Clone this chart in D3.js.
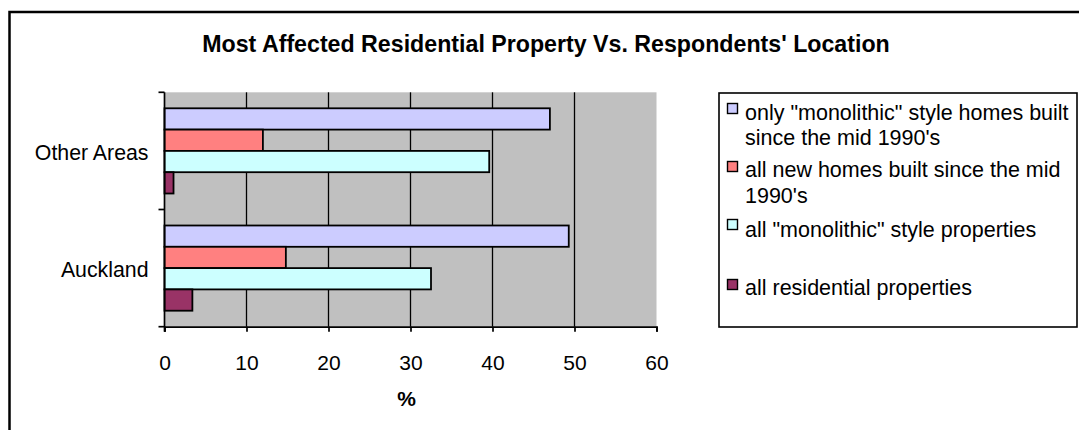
<!DOCTYPE html>
<html>
<head>
<meta charset="utf-8">
<script src="https://cdn.jsdelivr.net/npm/d3@7"></script>
<style>
  html, body { margin: 0; padding: 0; background: #fff; }
  svg { display: block; font-family: "Liberation Sans", Arial, sans-serif; }
</style>
</head>
<body>
<svg id="chart" width="1079" height="430"></svg>
<script>
// Categories (top to bottom) and series, in legend order
const categories = ["Other Areas", "Auckland"];
const seriesNames = [
  'only "monolithic" style homes built since the mid 1990\'s',
  "all new homes built since the mid 1990's",
  'all "monolithic" style properties',
  "all residential properties"
];
const legendLines = [
  ['only "monolithic" style homes built', "since the mid 1990's"],
  ["all new homes built since the mid", "1990's"],
  ['all "monolithic" style properties'],
  ["all residential properties"]
];
const seriesColors = ["#CCCCFF", "#FF8080", "#CCFFFF", "#993366"];
// Percent values per series, one entry per category
const monolithicSince90s = [47.0, 49.3];
const allNewSince90s = [12.0, 14.8];
const allMonolithic = [39.6, 32.5];
const allResidential = [1.1, 3.4];
const seriesValues = [monolithicSince90s, allNewSince90s, allMonolithic, allResidential];
const xTicks = [0, 10, 20, 30, 40, 50, 60];

const svg = d3.select("#chart");

// Outer frame
svg.append("rect")
  .attr("x", 9.5).attr("y", 12)
  .attr("width", 1100).attr("height", 450)
  .attr("fill", "none").attr("stroke", "#000").attr("stroke-width", 2.5);

// Title
svg.append("text")
  .attr("x", 546).attr("y", 52)
  .attr("text-anchor", "middle")
  .attr("font-weight", "bold").attr("font-size", 23.2)
  .text("Most Affected Residential Property Vs. Respondents' Location");

const plot = { left: 164.5, right: 656.5, top: 92.3, bottom: 326.7 };

const x = d3.scaleLinear().domain([0, 60]).range([plot.left, plot.right]);
const gap = 0.273;
const y = d3.scaleBand().domain(categories)
  .range([plot.top, plot.bottom])
  .paddingInner(gap).paddingOuter(gap / 2);
const ySeries = d3.scaleBand().domain(d3.range(seriesNames.length))
  .range([0, y.bandwidth()]);

// Plot background
svg.append("rect")
  .attr("x", plot.left).attr("y", plot.top)
  .attr("width", plot.right - plot.left).attr("height", plot.bottom - plot.top)
  .attr("fill", "#C0C0C0");

// Vertical gridlines
svg.append("g").selectAll("line")
  .data(xTicks.filter(d => d > 0 && d < 60))
  .join("line")
  .attr("x1", d => x(d)).attr("x2", d => x(d))
  .attr("y1", plot.top).attr("y2", plot.bottom)
  .attr("stroke", "#000").attr("stroke-width", 1.3);

// Bars
const groups = svg.append("g").selectAll("g")
  .data(categories)
  .join("g")
  .attr("transform", c => `translate(0,${y(c)})`);

groups.selectAll("rect")
  .data((c, ci) => seriesValues.map((vals, si) => ({ si, v: vals[ci] })))
  .join("rect")
  .attr("x", x(0))
  .attr("y", d => ySeries(d.si))
  .attr("width", d => x(d.v) - x(0))
  .attr("height", ySeries.bandwidth())
  .attr("fill", d => seriesColors[d.si])
  .attr("stroke", "#000").attr("stroke-width", 1.8);

// X axis
const xAxis = svg.append("g")
  .attr("transform", `translate(0,${plot.bottom})`)
  .call(d3.axisBottom(x).tickValues(xTicks).tickSize(5).tickPadding(23).tickFormat(d3.format("d")));
xAxis.select(".domain").attr("stroke-width", 1.7);
xAxis.selectAll(".tick line").attr("stroke-width", 1.7);
xAxis.selectAll("text")
  .attr("font-size", 21).attr("fill", "#000")
  .attr("font-family", "Liberation Sans, Arial, sans-serif");

// Axis title
svg.append("text")
  .attr("x", (plot.left + plot.right) / 2 - 4).attr("y", 406)
  .attr("text-anchor", "middle")
  .attr("font-weight", "bold").attr("font-size", 21)
  .text("%");

// Y axis line and category boundary ticks
const yAxis = svg.append("g");
yAxis.append("line")
  .attr("x1", plot.left).attr("x2", plot.left)
  .attr("y1", plot.top).attr("y2", plot.bottom + 5)
  .attr("stroke", "#000").attr("stroke-width", 1.7);
const boundaries = d3.range(categories.length + 1).map(i => plot.top + i * y.step());
yAxis.selectAll(".bt")
  .data(boundaries)
  .join("line")
  .attr("class", "bt")
  .attr("x1", plot.left - 6).attr("x2", plot.left)
  .attr("y1", d => d).attr("y2", d => d)
  .attr("stroke", "#000").attr("stroke-width", 1.7);
yAxis.selectAll("text")
  .data(categories)
  .join("text")
  .attr("x", plot.left - 16)
  .attr("y", c => y(c) + y.bandwidth() / 2 + 9)
  .attr("text-anchor", "end")
  .attr("font-size", 21.3)
  .text(c => c);

// Legend
const legend = svg.append("g");
legend.append("rect")
  .attr("x", 719).attr("y", 93)
  .attr("width", 358).attr("height", 234)
  .attr("fill", "#fff").attr("stroke", "#000").attr("stroke-width", 1.6);

const legendSwatchY = [103.5, 161.5, 219.5, 279.5];
const legendBaselines = [[120, 145], [176.7, 203.3], [236.7], [295]];

const items = legend.selectAll("g.item")
  .data(seriesNames.map((n, i) => i))
  .join("g").attr("class", "item");

items.append("rect")
  .attr("x", 727.5).attr("y", i => legendSwatchY[i])
  .attr("width", 10).attr("height", 10)
  .attr("fill", i => seriesColors[i])
  .attr("stroke", "#000").attr("stroke-width", 1.4);

items.each(function (i) {
  d3.select(this).selectAll("text")
    .data(legendLines[i])
    .join("text")
    .attr("x", 745)
    .attr("y", (t, k) => legendBaselines[i][k])
    .attr("font-size", 21.5)
    .text(t => t);
});
</script>
</body>
</html>
